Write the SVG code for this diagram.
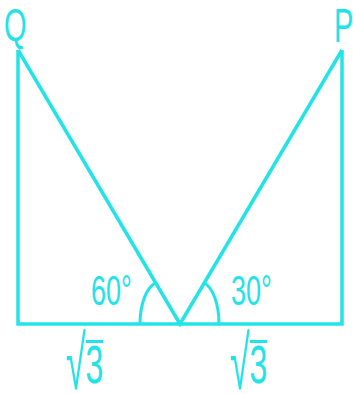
<svg xmlns="http://www.w3.org/2000/svg" width="353" height="394" viewBox="0 0 353 394">
<style>
.ln{fill:none;stroke:#22e3e8;stroke-width:3.5;stroke-linejoin:miter;stroke-linecap:butt}
.arc{fill:none;stroke:#22e3e8;stroke-width:3}
.bar{stroke:#22e3e8;stroke-width:3}
.t{fill:#22e3e8;font-family:"Liberation Sans",Arial,sans-serif}
</style>
<rect width="353" height="394" fill="#ffffff"/>
<g id="connectors">
<path class="ln" d="M18,50 V324 H342 V50"/>
<path class="ln" d="M18,50 L180,324 L342,50"/>
<path class="arc" d="M140,324 A20,42 0 0 1 155.7,282.9"/>
<path class="arc" d="M204.2,283 A19,42 0 0 1 219,324"/>
</g>
<g id="Q"><text class="t" font-size="29" transform="translate(4,41) scale(1,1.62)">Q</text></g>
<g id="P"><text class="t" font-size="29" transform="translate(334,42) scale(1,1.66)">P</text></g>
<g id="angle60"><text class="t" font-size="27" transform="translate(91,305) scale(1,1.58)">60°</text></g>
<g id="angle30"><text class="t" font-size="27" transform="translate(231,305) scale(1,1.58)">30°</text></g>
<g id="len-left">
<text class="t" font-size="36" transform="translate(66,389) scale(1,2.1)">√</text>
<text class="t" font-size="32" transform="translate(85.6,383) scale(1,1.65)">3</text>
<line class="bar" x1="86" y1="341.5" x2="103" y2="341.5"/>
</g>
<g id="len-right">
<text class="t" font-size="36" transform="translate(230,389) scale(1,2.1)">√</text>
<text class="t" font-size="32" transform="translate(249.6,383) scale(1,1.65)">3</text>
<line class="bar" x1="250" y1="341.5" x2="267" y2="341.5"/>
</g>
</svg>
